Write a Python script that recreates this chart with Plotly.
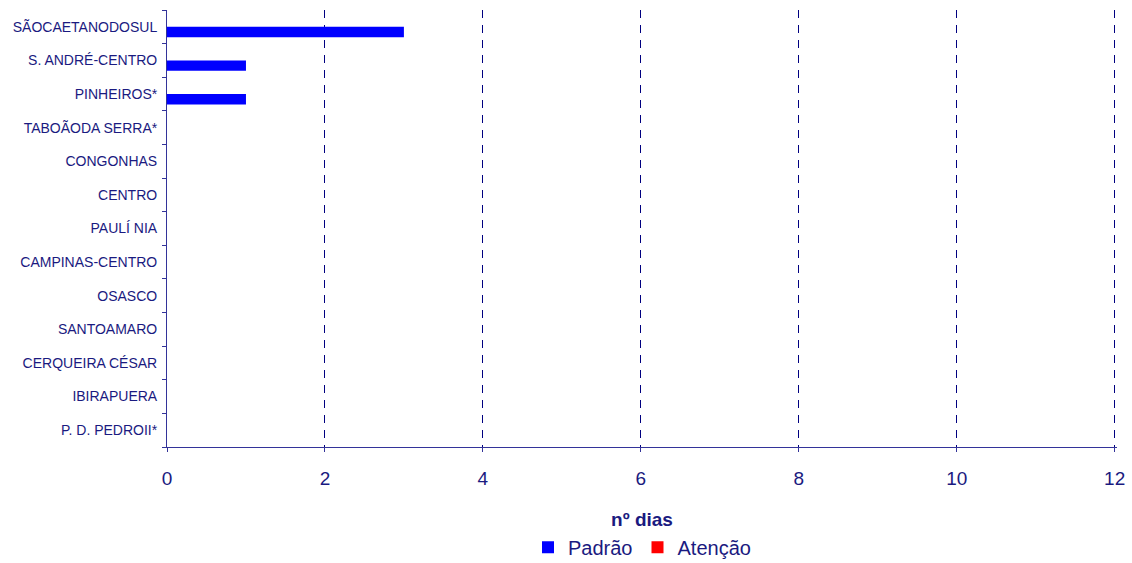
import plotly.graph_objects as go

# categorias de cima para baixo (como no gráfico original)
estacoes = ['SÃOCAETANODOSUL', 'S. ANDRÉ-CENTRO', 'PINHEIROS*', 'TABOÃODA SERRA*',
            'CONGONHAS', 'CENTRO', 'PAULÍ NIA', 'CAMPINAS-CENTRO', 'OSASCO',
            'SANTOAMARO', 'CERQUEIRA CÉSAR', 'IBIRAPUERA', 'P. D. PEDROII*']
padrao = [3, 1, 1, 0, 0, 0, 0, 0, 0, 0, 0, 0, 0]
atencao = [0, 0, 0, 0, 0, 0, 0, 0, 0, 0, 0, 0, 0]

azul_texto = '#1a1a80'

# plotly desenha a primeira categoria embaixo, então invertemos a lista
y_cat = estacoes[::-1]

fig = go.Figure()
fig.add_trace(go.Bar(y=y_cat, x=padrao[::-1], name='Padrão', orientation='h',
                     marker=dict(color='#0000ff', line=dict(width=0))))
fig.add_trace(go.Bar(y=y_cat, x=atencao[::-1], name='Atenção', orientation='h',
                     marker=dict(color='#ff0000', line=dict(width=0))))

fig.update_layout(
    width=1132, height=563,
    paper_bgcolor='white', plot_bgcolor='white',
    font=dict(family='Liberation Sans, Arial, sans-serif', color=azul_texto),
    barmode='group', bargap=0.38, bargroupgap=0,
    margin=dict(l=167, r=15, t=10, b=116, autoexpand=False),
    showlegend=True,
    legend=dict(orientation='h', x=0.5, xanchor='center', y=-0.185, yanchor='top',
                font=dict(size=20, color=azul_texto), itemwidth=30,
                tracegroupgap=0, traceorder='normal'),
)
fig.update_xaxes(
    # um pouco além de 12 para a grade em 12 ser desenhada
    range=[0, 12.03], dtick=2, tick0=0, automargin=False,
    showgrid=True, gridcolor='#000080', griddash='8px,7px', gridwidth=1,
    showline=True, linecolor='#333399', linewidth=1,
    ticks='outside', ticklen=4, tickcolor='#333399', ticklabelstandoff=10,
    tickfont=dict(size=19, color=azul_texto),
    title=dict(text='<b>nº dias</b>', font=dict(size=19, color=azul_texto), standoff=24),
    zeroline=False,
)
fig.update_yaxes(
    type='category', tickson='boundaries', automargin=False,
    showline=True, linecolor='#333399', linewidth=1,
    ticks='outside', ticklen=4, tickcolor='#333399', ticklabelstandoff=6,
    tickfont=dict(size=14, color=azul_texto),
    showgrid=False, zeroline=False,
)

# a página tem margem padrão de 8px no body; zerar para alinhar com a janela
fig.write_html('out.html', config={'displayModeBar': False},
               post_script="document.body.style.margin='0';")
